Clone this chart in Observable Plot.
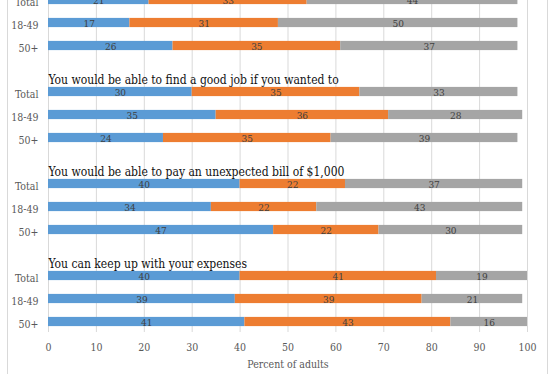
<!DOCTYPE html>
<html><head><meta charset="utf-8">
<script src="https://cdn.jsdelivr.net/npm/d3@7"></script>
<script src="https://cdn.jsdelivr.net/npm/@observablehq/plot@0.6"></script>
<style>
html,body{margin:0;padding:0;background:#fff;overflow:hidden;width:557px;height:374px;}
#wrap{position:relative;width:557px;height:374px;overflow:hidden;}
#border{position:absolute;left:7px;top:-10px;width:541px;height:400px;border:1px solid #d9d9d9;box-sizing:border-box;}
#chart{position:absolute;left:0;top:-60px;}
</style></head><body><div id="wrap"><div id="border"></div><div id="chart"></div></div>
<script>
const ages = ["Total", "18-49", "50+"];
const series = ["Series1", "Series2", "Series3"];
const colors = ["#5B9BD5", "#ED7D31", "#A5A5A5"];
const titles = [null,
  "You would be able to find a good job if you wanted to",
  "You would be able to pay an unexpected bill of $1,000",
  "You can keep up with your expenses"];
const values1 = [[21, 33, 44], [17, 31, 50], [26, 35, 37]];
const values2 = [[30, 35, 33], [35, 36, 28], [24, 35, 39]];
const values3 = [[40, 22, 37], [34, 22, 43], [47, 22, 30]];
const values4 = [[40, 41, 19], [39, 39, 21], [41, 43, 16]];
const xTicks = [0, 10, 20, 30, 40, 50, 60, 70, 80, 90, 100];
const xLabel = "Percent of adults";

const groups = [values1, values2, values3, values4];
const slots = [];
const rows = [];
const titleRows = [];
groups.forEach((vals, g) => {
  slots.push(`${g}|title`);
  if (titles[g]) titleRows.push({slot: `${g}|title`, text: titles[g]});
  ages.forEach((a, i) => {
    slots.push(`${g}|${a}`);
    series.forEach((s, j) => rows.push({slot: `${g}|${a}`, series: s, value: vals[i][j]}));
  });
});

const FONT = "'DejaVu Serif Condensed', 'DejaVu Serif', serif";
const O = 60;
const H = 374 + O;
const plotBottom = 332 + O;

const chart = Plot.plot({
  width: 557,
  height: H,
  marginLeft: 48,
  marginRight: 30,
  marginTop: 0,
  marginBottom: H - plotBottom,
  style: {fontFamily: FONT, fontSize: "10.5px", color: "#595959", background: "transparent"},
  x: {domain: [0, 100], axis: null},
  y: {domain: slots, range: [27.3, 390.7], paddingInner: 0.6, paddingOuter: 0.2, round: false, axis: null, label: null},
  color: {domain: series, range: colors},
  marks: [
    Plot.gridX(xTicks, {stroke: "#d9d9d9", strokeOpacity: 1}),
    Plot.barX(rows, Plot.stackX({x: "value", y: "slot", fill: "series"})),
    Plot.text(rows, Plot.stackX({x: "value", y: "slot", z: "series", text: d => String(d.value), fill: "#404040", fontSize: 10, dy: 1})),
    Plot.text(titleRows, {y: "slot", text: "text", frameAnchor: "left", textAnchor: "start", lineAnchor: "bottom", dy: 14.5, fontSize: 12, fill: "#111"}),
    Plot.axisY({tickSize: 0, tickPadding: 10, dy: 3, label: null, tickFormat: s => s.endsWith("title") ? "" : s.split("|")[1], fill: "#595959", fontSize: 10.5}),
    Plot.axisX({ticks: xTicks, tickSize: 0, tickPadding: 11, label: xLabel, labelAnchor: "center", labelOffset: 35, labelArrow: "none", fill: "#595959", fontSize: 10.5})
  ]
});
document.getElementById("chart").appendChild(chart);
</script>
</body></html>
